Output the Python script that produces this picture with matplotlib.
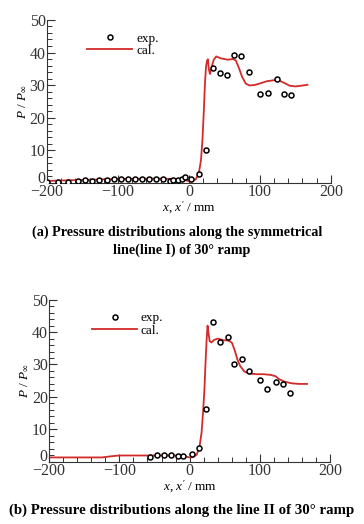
import numpy as np
import matplotlib
matplotlib.use("Agg")
import matplotlib.pyplot as plt
import matplotlib.transforms as mtransforms
from matplotlib.ticker import MultipleLocator

plt.rcParams['font.family'] = ['Liberation Serif', 'DejaVu Serif']
plt.rcParams['mathtext.fontset'] = 'custom'
plt.rcParams['mathtext.rm'] = 'Liberation Serif'
plt.rcParams['mathtext.it'] = 'Liberation Serif:italic'

# (a) line I - experiment
exp_a_x = [-200, -185, -170, -156, -146, -136, -126, -116, -106, -96, -86, -76,
           -66, -56, -46, -36, -27, -22, -16, -10, -5, 3, 14, 24, 34, 44, 54,
           64, 74, 84, 100, 111, 124, 134, 144]
exp_a_y = [0.2, 0.4, 0.4, 0.6, 0.9, 0.6, 0.9, 0.9, 1.2, 1.1, 1.1, 1.1,
           1.1, 1.2, 1.1, 1.2, 0.6, 0.9, 0.9, 1.3, 1.7, 1.1, 2.6, 10.2, 35.1, 33.7, 33.2,
           39.2, 38.9, 34.0, 27.4, 27.6, 31.9, 27.2, 27.0]
# (a) line I - calculation
cal_a_x = [-200, -150, -100, -50, -10, 0, 5, 10, 14, 17, 19, 21, 22.5, 24, 25.5, 26.8,
           28, 29.6, 32, 35, 38.5, 45, 55, 62, 66, 70, 75, 80, 85, 92, 100, 110, 120,
           128, 135, 142, 150, 158, 167]
cal_a_y = [0.6, 0.9, 1.2, 1.3, 1.2, 0.5, 0.4, 1.2, 3.0, 7.0, 13.0, 22.0, 30.0, 35.5, 37.5, 37.9,
           35.0, 33.4, 35.5, 37.8, 38.8, 38.2, 37.8, 38.0, 37.6, 35.5, 32.5, 30.5, 29.9, 30.0, 30.5, 31.2, 31.5,
           31.3, 30.6, 29.8, 29.6, 29.8, 30.1]

# (b) line II - experiment
exp_b_x = [-57, -46.5, -36, -26, -16, -10, 3, 13, 23, 33, 43, 54, 63, 74, 84,
           100, 110, 123, 133, 143]
exp_b_y = [1.5, 2.1, 2.1, 2.1, 1.6, 1.6, 2.5, 4.3, 16.3, 43.2, 36.9, 38.5, 30.1, 31.6, 28.1,
           25.1, 22.4, 24.6, 24.0, 21.2]
# (b) line II - calculation
cal_b_x = [-200, -160, -125, -110, -100, -60, -20, -8, 0, 5, 10, 14, 17, 19, 21, 22.5,
           24, 25.5, 27, 28.5, 31, 35, 40, 48, 55, 60, 64, 68, 72, 78, 85, 95, 105,
           115, 122, 128, 135, 145, 155, 167]
cal_b_y = [1.3, 1.3, 1.3, 1.7, 1.9, 1.9, 1.9, 1.7, 1.3, 1.4, 2.2, 4.5, 9.0, 15.0, 22.0, 30.0,
           37.0, 42.0, 39.5, 37.2, 36.8, 37.6, 38.0, 37.5, 37.4, 36.8, 34.5, 31.5, 29.5, 27.8, 27.2, 27.0, 27.0,
           26.8, 26.4, 25.4, 24.7, 24.2, 24.0, 24.0]

red = '#d42a2a'


def style_axes(ax, fig):
    ax.set_xlim(-200, 200)
    ax.set_ylim(0, 50)
    for s in ['top', 'right']:
        ax.spines[s].set_visible(False)
    for s in ['left', 'bottom']:
        ax.spines[s].set_linewidth(0.8)
        ax.spines[s].set_color('#333333')
    ax.xaxis.set_major_locator(MultipleLocator(100))
    ax.xaxis.set_minor_locator(MultipleLocator(20))
    ax.yaxis.set_major_locator(MultipleLocator(10))
    ax.yaxis.set_minor_locator(MultipleLocator(2))
    ax.tick_params(which='both', direction='in', colors='#333333', labelsize=11.5, pad=1)
    ax.tick_params(which='major', length=6, width=0.8)
    ax.tick_params(which='minor', length=3.5, width=0.7)
    ax.set_xticks([-200, -100, 0, 100, 200])
    ax.set_xticklabels(['\u2212200', '\u2212100', '0', '100', '200'])
    ax.set_yticks([0, 10, 20, 30, 40, 50])
    ax.set_yticklabels(['0', '10', '20', '30', '40', '50'])
    # lift the "0" of the y axis so it just clears the "-200" below it
    lab0 = ax.get_yticklabels()[0]
    lab0.set_transform(lab0.get_transform() +
                       mtransforms.ScaledTranslation(0, 4.5 / 72, fig.dpi_scale_trans))
    ax.set_xlabel(r"$x$, $x'$ / mm", fontsize=9.5, labelpad=0)
    ax.set_ylabel(r"$P$ / $P_\infty$", fontsize=9.5, labelpad=1)


fig = plt.figure(figsize=(3.64, 5.24), dpi=100)

ax1 = fig.add_axes([0.129, 0.651, 0.780, 0.311])
ax1.plot(cal_a_x, cal_a_y, color=red, lw=1.3, label='cal.', zorder=2)
ax1.plot(exp_a_x, exp_a_y, ls='none', marker='o', ms=3.6, mfc='white', mec='black',
         mew=1.1, label='exp.', zorder=3)
style_axes(ax1, fig)
ax1.legend(loc='upper left', bbox_to_anchor=(0.11, 0.98), frameon=False, fontsize=9.5,
           handlelength=3.4, handletextpad=0.3, labelspacing=0.0, borderpad=0.2,
           reverse=True)

ax2 = fig.add_axes([0.135, 0.119, 0.772, 0.309])
ax2.plot(cal_b_x, cal_b_y, color=red, lw=1.3, label='cal.', zorder=2)
ax2.plot(exp_b_x, exp_b_y, ls='none', marker='o', ms=3.6, mfc='white', mec='black',
         mew=1.1, label='exp.', zorder=3)
style_axes(ax2, fig)
ax2.legend(loc='upper left', bbox_to_anchor=(0.12, 0.98), frameon=False, fontsize=9.5,
           handlelength=3.4, handletextpad=0.3, labelspacing=0.0, borderpad=0.2,
           reverse=True)

fig.text(0.487, 1 - 232 / 524, '(a) Pressure distributions along the symmetrical',
         ha='center', va='center', fontsize=10.2, fontweight='bold')
fig.text(0.5, 1 - 250 / 524, 'line(line I) of 30\u00b0 ramp',
         ha='center', va='center', fontsize=10.2, fontweight='bold')
fig.text(0.498, 1 - 510 / 524, '(b) Pressure distributions along the line II of 30\u00b0 ramp',
         ha='center', va='center', fontsize=10.7, fontweight='bold')

fig.savefig('out.png', dpi=100)
